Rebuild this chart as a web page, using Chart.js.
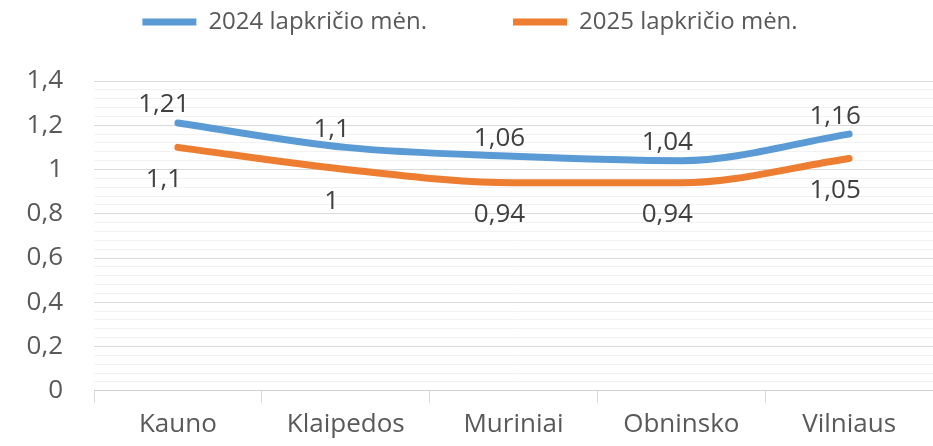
<!DOCTYPE html>
<html>
<head>
<meta charset="utf-8">
<script src="https://cdn.jsdelivr.net/npm/chart.js@4"></script>
<style>
  body { margin: 0; background: #fff; }
</style>
</head>
<body>
<canvas id="chart" width="933" height="446"></canvas>
<script>
// duomenys
const categories = ['Kauno', 'Klaipedos', 'Muriniai', 'Obninsko', 'Vilniaus'];
const seriesNames = ['2024 lapkričio mėn.', '2025 lapkričio mėn.'];
const values2024 = [1.21, 1.1, 1.06, 1.04, 1.16];
const values2025 = [1.1, 1, 0.94, 0.94, 1.05];
const yTicks = [0, 0.2, 0.4, 0.6, 0.8, 1, 1.2, 1.4];

const FONT = '"Open Sans", sans-serif';
const fmt = v => String(v).replace('.', ',');
const isMajor = v => yTicks.some(t => Math.abs(t - v) < 1e-6);

// reikšmių etiketės virš / po taškais
const valueLabels = {
  id: 'valueLabels',
  afterDatasetsDraw(chart) {
    const ctx = chart.ctx;
    ctx.save();
    ctx.font = '26px ' + FONT;
    ctx.fillStyle = '#404040';
    ctx.textAlign = 'center';
    ctx.textBaseline = 'middle';
    chart.data.datasets.forEach((ds, i) => {
      chart.getDatasetMeta(i).data.forEach((pt, j) => {
        const dy = i === 0 ? -18 : 32;
        ctx.fillText(fmt(ds.data[j]), pt.x - 14, pt.y + dy);
      });
    });
    ctx.restore();
  }
};

// legendos aukštis (padding naudojamas tarpui tarp elementų)
const legendHeight = {
  id: 'legendHeight',
  beforeInit(chart) {
    const fit = chart.legend.fit;
    chart.legend.fit = function () {
      fit.call(this);
      this.height = 157;
    };
  }
};

new Chart(document.getElementById('chart'), {
  type: 'line',
  data: {
    labels: categories,
    datasets: [
      {
        label: seriesNames[0],
        data: values2024,
        borderColor: '#5B9BD5',
        backgroundColor: '#5B9BD5',
        borderWidth: 7,
        borderCapStyle: 'round',
        pointRadius: 0,
        cubicInterpolationMode: 'monotone'
      },
      {
        label: seriesNames[1],
        data: values2025,
        borderColor: '#ED7D31',
        backgroundColor: '#ED7D31',
        borderWidth: 7,
        borderCapStyle: 'round',
        pointRadius: 0,
        cubicInterpolationMode: 'monotone'
      }
    ]
  },
  options: {
    responsive: false,
    animation: false,
    layout: { padding: { top: -76, left: 0, right: -7, bottom: 0 } },
    plugins: {
      legend: {
        position: 'top',
        labels: {
          usePointStyle: true,
          pointStyle: 'line',
          pointStyleWidth: 54,
          boxHeight: 7,
          color: '#595959',
          font: { family: FONT, size: 24 },
          padding: 86
        }
      },
      tooltip: { enabled: false }
    },
    scales: {
      x: {
        offset: true,
        grid: {
          offset: true,
          drawOnChartArea: false,
          tickLength: 12,
          color: '#d9d9d9'
        },
        border: { color: '#d0d0d0' },
        ticks: {
          color: '#595959',
          padding: 6,
          font: { family: FONT, size: 26 }
        }
      },
      y: {
        min: 0,
        max: 1.4,
        afterFit(scale) { scale.width = 94; },
        border: { display: false },
        grid: {
          drawTicks: false,
          color: c => c.tick.value === 0 ? '#d0d0d0' : (isMajor(c.tick.value) ? '#d9d9d9' : '#f2f2f2')
        },
        ticks: {
          stepSize: 0.04,
          autoSkip: false,
          padding: 31,
          color: '#595959',
          font: { family: FONT, size: 26 },
          callback: v => isMajor(v) ? fmt(Math.round(v * 10) / 10) : ''
        }
      }
    }
  },
  plugins: [valueLabels, legendHeight]
});
</script>
</body>
</html>
